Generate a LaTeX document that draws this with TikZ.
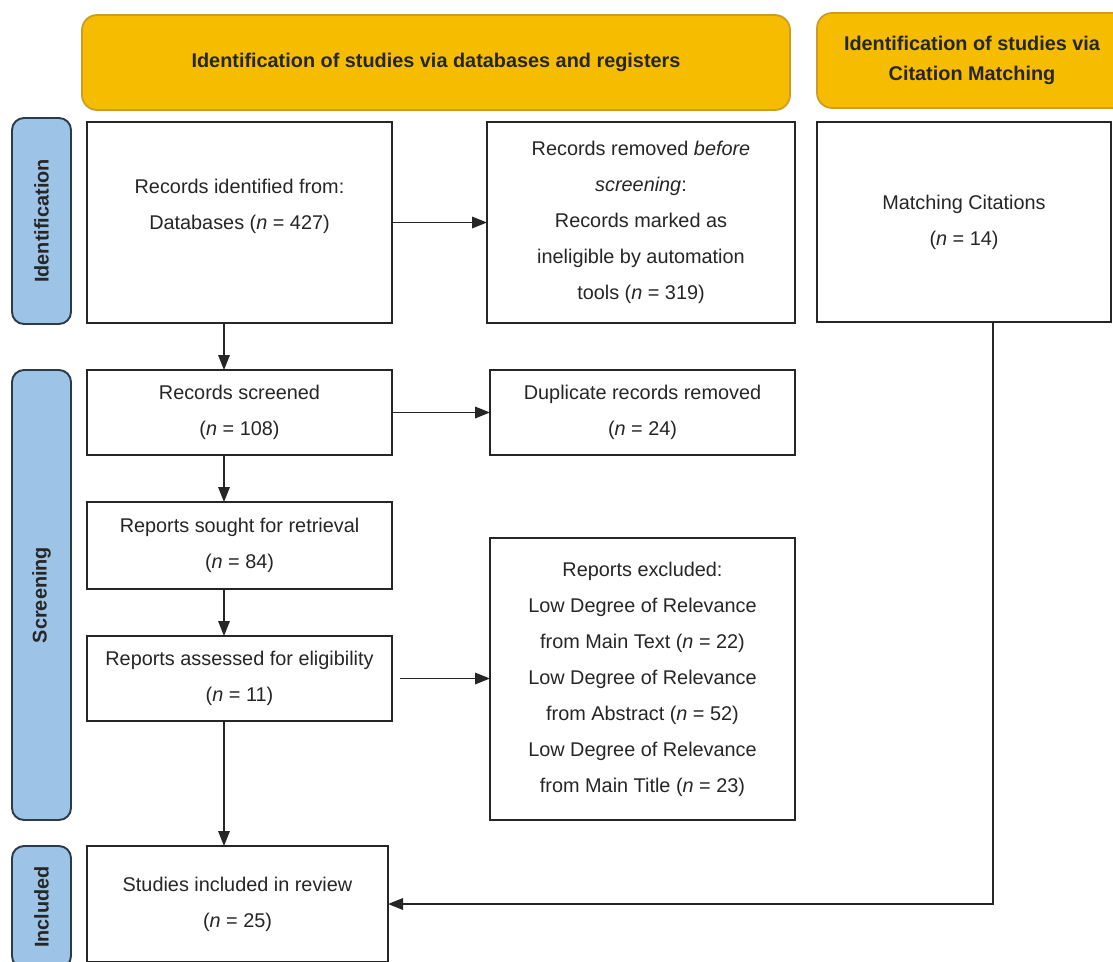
\documentclass[tikz,border=0pt]{standalone}
\usepackage{fontspec}
\setmainfont{Liberation Sans}
\usetikzlibrary{positioning, arrows.meta}

\definecolor{headgold}{RGB}{246,188,0}
\definecolor{headedge}{RGB}{205,155,40}
\definecolor{sideblue}{RGB}{157,195,230}
\definecolor{sideedge}{RGB}{45,58,75}

\begin{document}
\begin{tikzpicture}[
    >={Triangle[length=0.3cm,width=0.23cm]},
    every node/.style={font=\fontsize{11.3}{20.5}\selectfont, align=center,
        inner sep=0pt, outer sep=0pt, text=black!85},
    box/.style={draw=black!85, line width=1.1pt, fill=white},
    head/.style={draw=headedge, line width=1pt, fill=headgold, rounded corners=0.3cm,
        font=\fontsize{11.3}{17.5}\selectfont\bfseries},
    phase/.style={draw=sideedge, line width=1.1pt, fill=sideblue, rounded corners=0.24cm,
        minimum width=1.18cm},
    arr/.style={->, line width=1pt, draw=black!85}
]

    \clip (0,0) rectangle (22.26,-19.22);

    \node[box, minimum width=6.1cm, minimum height=4.02cm, anchor=north west] (idn) at (1.74,-2.44)
        {Records identified from:\\ Databases (\textit{n} = 427)\\ \mbox{}};
    \node[box, minimum width=6.16cm, minimum height=4.02cm] (rem) [right=1.9cm of idn.north east, anchor=north west]
        {Records removed \textit{before}\\ \textit{screening}:\\ Records marked as\\ ineligible by automation\\ tools (\textit{n} = 319)};
    \node[box, minimum width=5.88cm, minimum height=4.0cm] (cit) [right=0.44cm of rem.north east, anchor=north west]
        {Matching Citations\\ (\textit{n} = 14)};

    \node[head, minimum width=14.16cm, minimum height=1.9cm] (dbhead) [above=0.24cm of idn.north west, anchor=south west, xshift=-0.1cm]
        {Identification of studies via databases and registers};
    \node[head, minimum width=6.2cm, minimum height=1.9cm] (cithead) [above=0.28cm of cit.north west, anchor=south west]
        {Identification of studies via\\ Citation Matching};

    \node[box, minimum width=6.1cm, minimum height=1.7cm] (scr) [below=0.94cm of idn.south west, anchor=north west]
        {Records screened\\ (\textit{n} = 108)};
    \node[box, minimum width=6.1cm, minimum height=1.7cm] (dup) [right=1.96cm of scr.north east, anchor=north west]
        {Duplicate records removed\\ (\textit{n} = 24)};
    \node[box, minimum width=6.1cm, minimum height=1.74cm] (sought) [below=0.94cm of scr.south west, anchor=north west]
        {Reports sought for retrieval\\ (\textit{n} = 84)};
    \node[box, minimum width=6.1cm, minimum height=1.7cm] (assess) [below=0.94cm of sought.south west, anchor=north west]
        {Reports assessed for eligibility\\ (\textit{n} = 11)};
    \node[box, minimum width=6.1cm, minimum height=5.64cm] (excl) [below=1.66cm of dup.south west, anchor=north west]
        {Reports excluded:\\ Low Degree of Relevance\\ from Main Text (\textit{n} = 22)\\ Low Degree of Relevance\\
         from Abstract (\textit{n} = 52)\\ Low Degree of Relevance\\ from Main Title (\textit{n} = 23)};
    \node[box, minimum width=6.02cm, minimum height=2.32cm] (inc) [below=2.5cm of assess.south west, anchor=north west]
        {Studies included in review\\ (\textit{n} = 25)};

    \node[phase, minimum height=4.12cm] (idphase) [left=0.32cm of idn.north west, anchor=north east, yshift=0.08cm]
        {};
    \node[phase, minimum height=9.0cm] (scphase) [left=0.32cm of scr.north west, anchor=north east]
        {};
    \node[phase, minimum height=2.44cm] (inphase) [left=0.32cm of inc.north west, anchor=north east]
        {};
    \node[rotate=90, font=\fontsize{11.3}{13}\selectfont\bfseries] at (idphase) {Identification};
    \node[rotate=90, font=\fontsize{11.3}{13}\selectfont\bfseries] at (scphase) {Screening};
    \node[rotate=90, font=\fontsize{11.3}{13}\selectfont\bfseries] at (inphase) {Included};

    \draw[arr] (idn) -- (rem);
    \draw[arr] (scr) -- (dup);
    \draw[arr, shorten <=0.16cm] (assess) -- (assess -| excl.west);

    \draw[arr] ([xshift=-0.31cm]idn.south) -- ([xshift=-0.31cm]scr.north);
    \draw[arr] ([xshift=-0.31cm]scr.south) -- ([xshift=-0.31cm]sought.north);
    \draw[arr] ([xshift=-0.31cm]sought.south) -- ([xshift=-0.31cm]assess.north);
    \draw[arr] ([xshift=-0.31cm]assess.south) -- ([xshift=-0.31cm]assess.south |- inc.north);

    \draw[arr] ([xshift=0.58cm]cit.south) |- (inc);

\end{tikzpicture}
\end{document}
